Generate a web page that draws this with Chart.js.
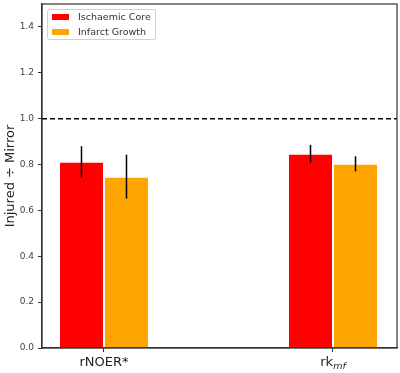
<!DOCTYPE html>
<html>
<head>
<meta charset="utf-8">
<script src="https://cdn.jsdelivr.net/npm/chart.js@4"></script>
<style>
html,body{margin:0;padding:0;background:#fff;}
#wrap{width:400px;height:373px;position:relative;}
</style>
</head>
<body>
<div id="wrap"><canvas id="c"></canvas></div>
<script>
// ---- data ----
const categoryPositions = [0, 1];
const labelMain = ['rNOER*', 'rk'];
const labelSub = ['', 'mf'];
const seriesNames = ['Ischaemic Core', 'Infarct Growth'];
const coreValues = [0.812, 0.847];
const coreErrors = [0.068, 0.039];
const growthValues = [0.747, 0.803];
const growthErrors = [0.096, 0.033];
const yTicks = [0, 0.2, 0.4, 0.6, 0.8, 1.0, 1.2, 1.4];
const referenceLine = 1.0;

const FONT = '"DejaVu Sans", sans-serif';
const colors = ['#ff0000', '#ffa500'];
const errorsBySeries = [coreErrors, growthErrors];
const valuesBySeries = [coreValues, growthValues];

const extras = {
  id: 'extras',
  afterDatasetsDraw(chart) {
    const ctx = chart.ctx;
    const ys = chart.scales.y;
    const ca = chart.chartArea;
    ctx.save();
    const yr = ys.getPixelForValue(referenceLine);
    ctx.strokeStyle = '#000';
    ctx.lineWidth = 1.5;
    ctx.setLineDash([5, 3]);
    ctx.beginPath();
    ctx.moveTo(ca.left, yr);
    ctx.lineTo(ca.right, yr);
    ctx.stroke();
    ctx.setLineDash([]);
    chart.data.datasets.forEach((ds, di) => {
      const meta = chart.getDatasetMeta(di);
      meta.data.forEach((bar, i) => {
        const v = valuesBySeries[di][i];
        const e = errorsBySeries[di][i];
        ctx.beginPath();
        ctx.lineWidth = 1.5;
        ctx.strokeStyle = '#000';
        ctx.moveTo(bar.x, ys.getPixelForValue(v + e));
        ctx.lineTo(bar.x, ys.getPixelForValue(v - e));
        ctx.stroke();
      });
    });
    ctx.restore();
  },
  afterDraw(chart) {
    const ctx = chart.ctx;
    const ca = chart.chartArea;
    const xs = chart.scales.x;
    ctx.save();
    ctx.strokeStyle = '#333';
    ctx.lineWidth = 1.2;
    ctx.strokeRect(ca.left, ca.top, ca.right - ca.left, ca.bottom - ca.top);
    ctx.fillStyle = '#222';
    ctx.textBaseline = 'alphabetic';
    categoryPositions.forEach((p, i) => {
      const x = xs.getPixelForValue(p);
      ctx.font = '13px ' + FONT;
      const wMain = ctx.measureText(labelMain[i]).width;
      ctx.font = 'italic 9.5px ' + FONT;
      const wSub = labelSub[i] ? ctx.measureText(labelSub[i]).width : 0;
      const start = x - (wMain + wSub) / 2;
      ctx.textAlign = 'left';
      ctx.font = '13px ' + FONT;
      ctx.fillText(labelMain[i], start, 366);
      if (labelSub[i]) {
        ctx.font = 'italic 9.5px ' + FONT;
        ctx.fillText(labelSub[i], start + wMain, 369);
      }
    });
    ctx.save();
    ctx.translate(14, (ca.top + ca.bottom) / 2);
    ctx.rotate(-Math.PI / 2);
    ctx.textAlign = 'center';
    ctx.textBaseline = 'alphabetic';
    ctx.font = '13px ' + FONT;
    ctx.fillStyle = '#222';
    ctx.fillText('Injured \u00f7 Mirror', 0, 0);
    ctx.restore();
    // legend
    const lx = ca.left + 5, ly = ca.top + 5, lw = 108, lh = 30;
    ctx.beginPath();
    if (ctx.roundRect) ctx.roundRect(lx + 0.5, ly + 0.5, lw, lh, 2); else ctx.rect(lx + 0.5, ly + 0.5, lw, lh);
    ctx.fillStyle = 'rgba(255,255,255,0.85)';
    ctx.fill();
    ctx.strokeStyle = '#d0d0d0';
    ctx.lineWidth = 1;
    ctx.stroke();
    seriesNames.forEach((n, i) => {
      const cy = ly + 8 + i * 15;
      ctx.fillStyle = colors[i];
      ctx.fillRect(lx + 5, cy - 3, 17, 6);
      ctx.fillStyle = '#333';
      ctx.font = '9.5px ' + FONT;
      ctx.textAlign = 'left';
      ctx.textBaseline = 'middle';
      ctx.fillText(n, lx + 31, cy + 0.5);
    });
    ctx.restore();
  }
};

new Chart(document.getElementById('c'), {
  type: 'bar',
  data: {
    datasets: [
      {
        label: seriesNames[0],
        data: categoryPositions.map((p, i) => ({x: p, y: coreValues[i]})),
        backgroundColor: colors[0],
        borderColor: 'rgba(255,255,255,0.7)',
        borderWidth: 1,
        categoryPercentage: 0.393,
        barPercentage: 1.0
      },
      {
        label: seriesNames[1],
        data: categoryPositions.map((p, i) => ({x: p, y: growthValues[i]})),
        backgroundColor: colors[1],
        borderColor: 'rgba(255,255,255,0.7)',
        borderWidth: 1,
        categoryPercentage: 0.393,
        barPercentage: 1.0
      }
    ]
  },
  options: {
    responsive: true,
    maintainAspectRatio: false,
    animation: false,
    layout: {padding: {top: 4, right: 3, left: 0, bottom: 0}},
    plugins: {legend: {display: false}, tooltip: {enabled: false}},
    scales: {
      x: {
        type: 'linear',
        offset: false,
        min: -0.2707,
        max: 1.2795,
        afterBuildTicks: (s) => { s.ticks = categoryPositions.map(v => ({value: v})); },
        afterFit: (s) => { s.height = 25; s.paddingLeft = 0; s.paddingRight = 0; },
        ticks: {autoSkip: false, callback: () => '', font: {size: 9}},
        grid: {offset: false, drawOnChartArea: false, drawTicks: true, tickLength: 4, color: '#333', lineWidth: 1},
        border: {display: true, color: '#333', width: 1.2}
      },
      y: {
        min: 0,
        max: 1.5,
        afterBuildTicks: (s) => { s.ticks = yTicks.map(v => ({value: v})); },
        afterFit: (s) => { s.width = 42; s.paddingTop = 0; s.paddingBottom = 0; },
        ticks: {
          callback: (v) => Number(v).toFixed(1),
          font: {family: FONT, size: 9},
          color: '#444',
          padding: 4
        },
        grid: {drawOnChartArea: false, drawTicks: true, tickLength: 4, color: '#333', lineWidth: 1},
        border: {display: true, color: '#333', width: 1.2}
      }
    }
  },
  plugins: [extras]
});
</script>
</body>
</html>
